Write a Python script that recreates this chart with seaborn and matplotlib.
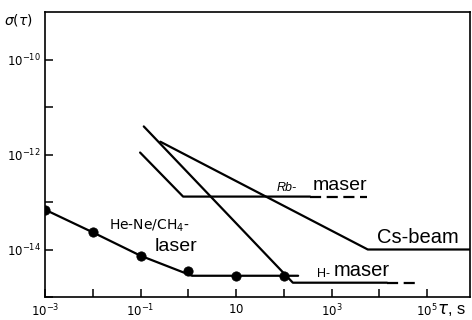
import numpy as np
import pandas as pd
import matplotlib
matplotlib.use("Agg")
import matplotlib.pyplot as plt
import seaborn as sns
from matplotlib.ticker import FixedLocator, FixedFormatter, NullFormatter

# ---- data ----
laser_pts_x = [1e-3, 1e-2, 1e-1, 1.0, 10.0, 100.0]
laser_pts_y = [6.9e-14, 2.3e-14, 7.4e-15, 3.5e-15, 2.8e-15, 2.8e-15]
laser_line_x = [1e-3, 1e-2, 1e-1, 1.2, 200.0]
laser_line_y = [6.9e-14, 2.3e-14, 7.4e-15, 2.8e-15, 2.8e-15]

hmaser_x = [0.117, 155.0, 14500.0]
hmaser_y = [3.9e-12, 2.0e-15, 2.0e-15]
hmaser_dash_x = [14500.0, 70000.0]
hmaser_dash_y = [2.0e-15, 2.0e-15]

rb_x = [0.098, 0.78, 355.0]
rb_y = [1.1e-12, 1.3e-13, 1.3e-13]
rb_dash_x = [355.0, 5500.0]
rb_dash_y = [1.3e-13, 1.3e-13]

cs_x = [0.26, 5750.0, 8e5]
cs_y = [1.86e-12, 1.0e-14, 1.0e-14]

xticks_major = [1e-3, 1e-1, 1e1, 1e3, 1e5]
xtick_labels = [r'$10^{-3}$', r'$10^{-1}$', r'$10$', r'$10^{3}$', r'$10^{5}$']
yticks_major = [1e-14, 1e-12, 1e-10]
ytick_labels = [r'$10^{-14}$', r'$10^{-12}$', r'$10^{-10}$']

sns.set_style("ticks")
plt.rcParams['font.family'] = ['Liberation Sans', 'DejaVu Sans']
plt.rcParams['mathtext.fontset'] = 'dejavusans'
plt.rcParams['mathtext.default'] = 'it'
plt.rcParams['text.color'] = 'black'
plt.rcParams['xtick.color'] = 'black'
plt.rcParams['ytick.color'] = 'black'

fig = plt.figure(figsize=(4.72, 3.2), dpi=100)
ax = fig.add_axes([45/472, 23/320, 425/472, 285/320])

lw = 1.6
def line(x, y, **kw):
    df = pd.DataFrame({'x': x, 'y': y})
    sns.lineplot(data=df, x='x', y='y', sort=False, estimator=None,
                 color='black', lw=lw, ax=ax, **kw)

line(laser_line_x, laser_line_y)
sns.scatterplot(x=laser_pts_x, y=laser_pts_y, color='black', s=45,
                edgecolor='black', ax=ax, zorder=5)
line(hmaser_x, hmaser_y)
line(hmaser_dash_x, hmaser_dash_y, dashes=(5, 2.5))
line(rb_x, rb_y)
line(rb_dash_x, rb_dash_y, dashes=(5, 2.5))
line(cs_x, cs_y)

ax.set_xscale('log')
ax.set_yscale('log')
ax.set_xlim(1e-3, 10**5.9)
ax.set_ylim(1e-15, 1e-9)

ax.xaxis.set_major_locator(FixedLocator(xticks_major))
ax.xaxis.set_major_formatter(FixedFormatter(xtick_labels))
ax.xaxis.set_minor_locator(FixedLocator([10.0**k for k in range(-3, 6)]))
ax.xaxis.set_minor_formatter(NullFormatter())
ax.yaxis.set_major_locator(FixedLocator(yticks_major))
ax.yaxis.set_major_formatter(FixedFormatter(ytick_labels))
ax.yaxis.set_minor_locator(FixedLocator([10.0**k for k in range(-15, -9)]))
ax.yaxis.set_minor_formatter(NullFormatter())
ax.tick_params(which='both', direction='in', length=6, width=1.1, color='black',
               labelsize=8.5, labelcolor='black', pad=3)
ax.tick_params(axis='x', which='major', pad=4)
for s in ax.spines.values():
    s.set_visible(True)
    s.set_linewidth(1.2)
    s.set_color('black')
ax.set_xlabel('')
ax.set_ylabel('')

# text labels
ax.text(10**1.85, 1.45e-13, 'Rb-', fontsize=9, style='italic', ha='left', va='bottom')
ax.text(10**2.6, 1.45e-13, 'maser', fontsize=14, ha='left', va='bottom')
ax.text(10**3.95, 1.15e-14, 'Cs-beam', fontsize=14.5, ha='left', va='bottom')
ax.text(10**2.7, 2.25e-15, 'H-', fontsize=9, ha='left', va='bottom')
ax.text(10**3.05, 2.25e-15, 'maser', fontsize=14.5, ha='left', va='bottom')
ax.text(10**-1.67, 10**-13.5, r'He-Ne/CH$_\mathregular{4}$-', fontsize=10,
        ha='left', va='center', family=['DejaVu Sans'])
ax.text(10**-0.7, 10**-13.93, 'laser', fontsize=14, ha='left', va='center')

fig.text(4/472, 1 - 20/320, r'$\sigma(\tau)$', fontsize=10, ha='left', va='center')
fig.text(437/472, 1 - 310/320, r'$\tau$, s', fontsize=12, ha='left', va='center')

fig.savefig('out.png', dpi=100)
